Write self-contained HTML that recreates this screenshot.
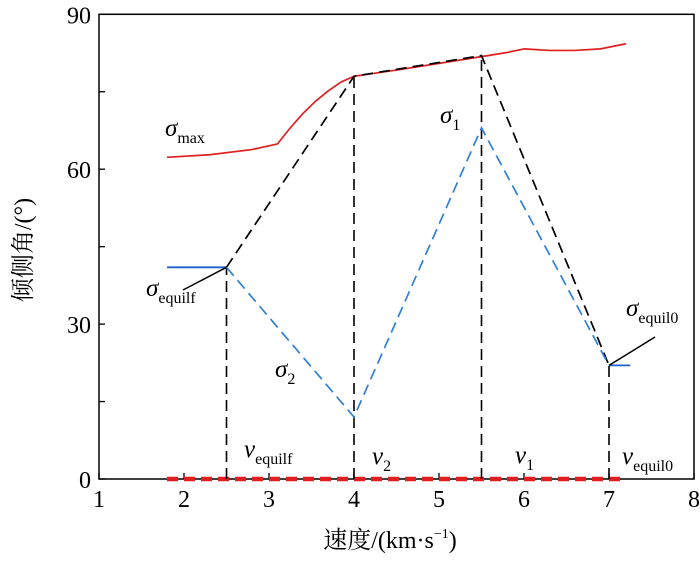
<!DOCTYPE html>
<html><head><meta charset="utf-8"><style>
body{margin:0;background:#fff}
svg text{font-family:"Liberation Serif","Noto Serif CJK SC",serif;fill:#000}
</style></head><body>
<svg id="chart" width="700" height="560" xmlns="http://www.w3.org/2000/svg">
<g id="g"></g>
</svg>
<script>
const xTicks=[1,2,3,4,5,6,7,8];
const yTicks=[0,30,60,90];
const yMinor=[15,45,75];
const sigmaMaxX=[1.8,2.3,2.8,3.1,3.25,3.4,3.55,3.7,3.85,4,4.5,5,5.5,5.8,6,6.3,6.6,6.9,7.2];
const sigmaMaxY=[62.3,62.8,63.8,64.9,68,70.8,73.2,75.2,76.9,78,79.2,80.5,81.8,82.6,83.3,83,83,83.3,84.3];
const blackX=[2.5,4,5.5,7];
const blackY=[41,78,82,22];
const blueX=[2.5,4,5.5,7];
const blueY=[41,12,68,22];
const vLines=[2.5,4,5.5,7];
const baseRange=[1.8,7.2];
const ns="http://www.w3.org/2000/svg";
const X=v=>99+(v-1)*85, Y=v=>479-v*(464.7/90);
const g=document.getElementById('g');
function el(t,a,txt){const e=document.createElementNS(ns,t);for(const k in a)e.setAttribute(k,a[k]);if(txt!==undefined)e.textContent=txt;g.appendChild(e);return e;}
let e;
e=el('rect',{x:99,y:Y(90),width:X(8)-99,height:Y(0)-Y(90),fill:'none',stroke:'#000','stroke-width':1.5});

xTicks.forEach(v=>{
 e=el('line',{x1:X(v),x2:X(v),y1:Y(0),y2:Y(0)-6,stroke:'#000','stroke-width':1.3});
 
 e=el('text',{x:X(v),y:507,'font-size':24,'text-anchor':'middle'},v);
 
});
yTicks.concat(yMinor).forEach(v=>{
 e=el('line',{x1:99,x2:105,y1:Y(v),y2:Y(v),stroke:'#000','stroke-width':1.3});
 
});
yTicks.forEach(v=>{
 e=el('text',{x:91,y:Y(v)+9,'font-size':24,'text-anchor':'end'},v);
 
});
e=el('line',{x1:X(baseRange[0]),x2:X(baseRange[1]),y1:Y(0),y2:Y(0),stroke:'#e02020','stroke-width':4.5,'stroke-dasharray':'11,6'});

vLines.forEach((v,i)=>{
 e=el('line',{x1:X(v),x2:X(v),y1:Y(0),y2:Y(blackY[i]),stroke:'#000','stroke-width':1.6,'stroke-dasharray':'11,6'});
 
});
e=el('polyline',{points:sigmaMaxX.map((x,i)=>X(x)+','+Y(sigmaMaxY[i])).join(' '),fill:'none',stroke:'#e02020','stroke-width':1.7,'stroke-linejoin':'round'});

e=el('polyline',{points:blackX.map((x,i)=>X(x)+','+Y(blackY[i])).join(' '),fill:'none',stroke:'#000','stroke-width':1.7,'stroke-dasharray':'11,6'});

e=el('polyline',{points:blueX.map((x,i)=>X(x)+','+Y(blueY[i])).join(' '),fill:'none',stroke:'#2f7fd8','stroke-width':1.7,'stroke-dasharray':'11,6'});

e=el('line',{x1:X(1.8),x2:X(2.5),y1:Y(41),y2:Y(41),stroke:'#1f5fd0','stroke-width':1.8});

e=el('line',{x1:X(7),x2:X(7.25),y1:Y(22),y2:Y(22),stroke:'#1f5fd0','stroke-width':1.8});

e=el('line',{x1:X(2.5),y1:Y(41),x2:183,y2:290,stroke:'#000','stroke-width':1.5});

e=el('line',{x1:X(7),y1:Y(22),x2:655,y2:337,stroke:'#000','stroke-width':1.5});

function lbl(x,y,sym,sub,name){
 e=el('text',{x:x,y:y,'font-size':25});
 
 e.innerHTML='<tspan font-style="italic">'+sym+'</tspan><tspan font-size="16" dy="7">'+sub+'</tspan>';
}
lbl(165,136,'σ','max','sigma-max-label');
lbl(440,123,'σ','1','sigma1-label');
lbl(275,377,'σ','2','sigma2-label');
lbl(146,296,'σ','equilf','sigma-equilf-label');
lbl(626,316,'σ','equil0','sigma-equil0-label');
lbl(244,457,'v','equilf','v-equilf-label');
lbl(372,464,'v','2','v2-label');
lbl(515,463,'v','1','v1-label');
lbl(622,464,'v','equil0','v-equil0-label');
e=el('text',{x:390,y:548,'font-size':24,'text-anchor':'middle'});

e.innerHTML='速度/(km·s<tspan font-size="14" dy="-10">−1</tspan><tspan dy="10">)</tspan>';
e=el('text',{x:0,y:0,'font-size':24,'text-anchor':'middle',transform:'translate(31,250) rotate(-90)'},'倾侧角/(°)');

</script>
</body></html>
